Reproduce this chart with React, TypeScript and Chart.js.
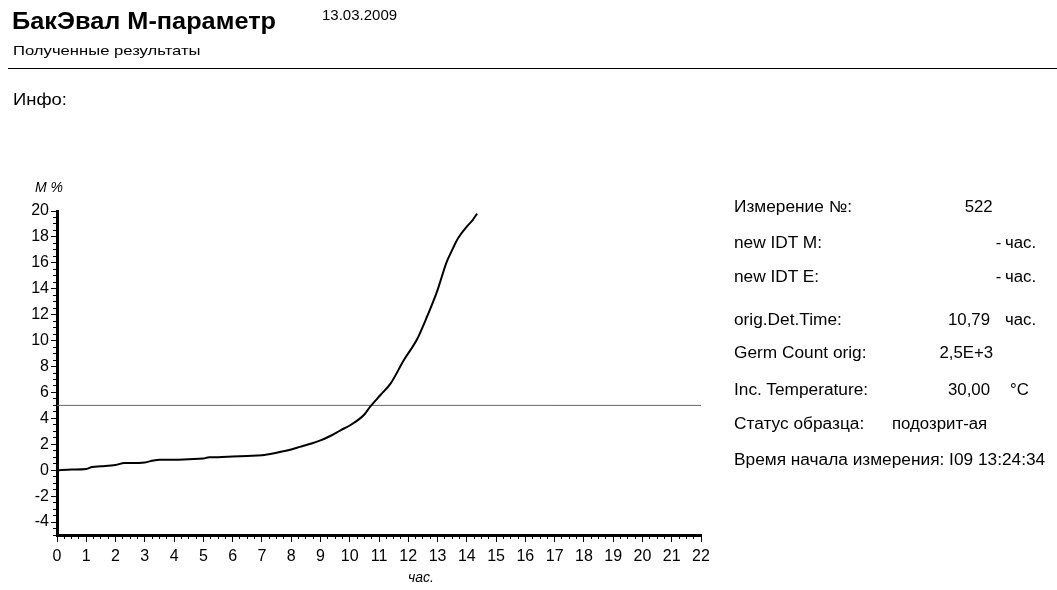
import React, { useEffect, useRef } from "react";
import { Chart, registerables } from "chart.js";

Chart.register(...registerables);

// ---- data ----
const hours = [0, 0.5, 1, 1.2, 1.5, 2, 2.3, 2.5, 3, 3.3, 3.5, 4, 4.5, 5, 5.2, 5.5, 6, 6.5, 7, 7.5, 8, 8.3, 8.6, 9, 9.3, 9.7, 10, 10.3, 10.5, 10.7, 11.05, 11.4, 11.85, 12.3, 12.65, 13.0, 13.3, 13.5, 13.7, 14.0, 14.2, 14.35];
const mPercent = [0, 0.05, 0.1, 0.25, 0.3, 0.4, 0.55, 0.55, 0.6, 0.75, 0.8, 0.8, 0.85, 0.9, 1.0, 1.0, 1.05, 1.1, 1.15, 1.35, 1.6, 1.8, 2.0, 2.3, 2.6, 3.1, 3.45, 3.9, 4.3, 4.9, 5.8, 6.7, 8.5, 10.1, 11.9, 13.9, 16.0, 17.0, 17.9, 18.8, 19.3, 19.8];
const thresholdHours = [0, 22];
const thresholdLevel = [5, 5];

const xRange = [0, 22];
const yRange = [-5, 20];

const infoLabels = ["Измерение №:", "new IDT M:", "new IDT E:", "orig.Det.Time:", "Germ Count orig:", "Inc. Temperature:", "Статус образца:", "Время начала измерения: I09 13:24:34"];
const infoValues = ["522", "-", "-", "10,79", "2,5E+3", "30,00", "подозрит-ая", ""];
const infoUnits = ["", "час.", "час.", "час.", "", "°C", "", ""];

const FONT = "'Liberation Sans', Arial, sans-serif";

type TProps = { x: number; cy: number; size: number; text: string; bold?: boolean; italic?: boolean; sx?: number; align?: "left" | "right" };
function T({ x, cy, size, text, bold, italic, sx = 1, align = "left" }: TProps) {
  const style: React.CSSProperties = {
    position: "absolute",
    top: cy - 0.49 * size,
    fontSize: size,
    lineHeight: `${size}px`,
    fontWeight: bold ? 700 : 400,
    fontStyle: italic ? "italic" : "normal",
    whiteSpace: "nowrap",
    color: "#000",
    transform: `scaleX(${sx})`,
    transformOrigin: align === "left" ? "left center" : "right center",
  };
  if (align === "left") style.left = x;
  else style.right = 1057 - x;
  return <div style={style}>{text}</div>;
}

export default function App() {
  const ref = useRef<HTMLCanvasElement | null>(null);

  useEffect(() => {
    if (!ref.current) return;
    const tickFont = { family: FONT, size: 16 };
    const chart = new Chart(ref.current, {
      type: "line",
      data: {
        datasets: [
          {
            label: "M %",
            data: hours.map((h, i) => ({ x: h, y: mPercent[i] })),
            borderColor: "#000",
            borderWidth: 2,
            pointRadius: 0,
            cubicInterpolationMode: "monotone",
            xAxisID: "x",
            yAxisID: "y",
          },
          {
            label: "threshold",
            data: thresholdHours.map((h, i) => ({ x: h, y: thresholdLevel[i] })),
            borderColor: "#666",
            borderWidth: 1,
            pointRadius: 0,
            xAxisID: "x",
            yAxisID: "y",
          },
        ],
      },
      options: {
        animation: false,
        responsive: false,
        devicePixelRatio: 1,
        layout: { padding: { left: 0, right: 356, top: 211, bottom: 0 } },
        plugins: { legend: { display: false }, tooltip: { enabled: false } },
        scales: {
          xMinor: {
            type: "linear",
            position: "bottom",
            min: xRange[0],
            max: xRange[1],
            weight: 0,
            ticks: { display: false, stepSize: 0.25, autoSkip: false },
            grid: { drawOnChartArea: false, drawTicks: true, tickLength: 4, color: "#000", lineWidth: 1 },
            border: { display: false },
            afterFit: (s: any) => { s.height = 0; },
          },
          x: {
            type: "linear",
            position: "bottom",
            min: xRange[0],
            max: xRange[1],
            weight: 1,
            ticks: { stepSize: 1, autoSkip: false, color: "#000", font: tickFont, padding: 5, maxRotation: 0 },
            grid: { drawOnChartArea: false, tickLength: 7, color: "#000", lineWidth: 1 },
            border: { display: true, width: 3, color: "#000" },
            afterFit: (s: any) => { s.height = 55; },
          },
          yMinor: {
            type: "linear",
            position: "left",
            min: yRange[0],
            max: yRange[1],
            weight: 0,
            ticks: { display: false, stepSize: 0.5, autoSkip: false },
            grid: { drawOnChartArea: false, drawTicks: true, tickLength: 4, color: "#000", lineWidth: 1 },
            border: { display: false },
            afterFit: (s: any) => { s.width = 0; },
          },
          y: {
            type: "linear",
            position: "left",
            min: yRange[0],
            max: yRange[1],
            weight: 1,
            ticks: { stepSize: 2, includeBounds: false, autoSkip: false, color: "#000", font: tickFont, padding: 2 },
            grid: { drawOnChartArea: false, tickLength: 6, color: "#000", lineWidth: 1 },
            border: { display: true, width: 3, color: "#000" },
            afterFit: (s: any) => { s.width = 57; },
          },
        },
      },
    });
    return () => chart.destroy();
  }, []);

  const rowCy = [207, 243, 277, 320, 353, 390, 424, 460];
  const valueRight = [993, 1001, 1001, 990, 993, 990, 0, 0];

  return (
    <div style={{ position: "fixed", left: 0, top: 0, width: 1057, height: 590, background: "#fff", fontFamily: FONT, overflow: "hidden" }}>
      <canvas ref={ref} width={1057} height={590} style={{ position: "absolute", left: 0, top: 0, width: 1057, height: 590 }} />
      <T x={12} cy={21} size={23} text="БакЭвал М-параметр" bold sx={1.1} />
      <T x={322} cy={14} size={15} text="13.03.2009" />
      <T x={13} cy={50} size={13} text="Полученные результаты" sx={1.28} />
      <div style={{ position: "absolute", left: 8, top: 68, width: 1049, height: 0, borderTop: "1.5px solid #000" }} />
      <T x={13} cy={100} size={16} text="Инфо:" sx={1.15} />
      <T x={35} cy={187} size={14} text="M %" italic />
      <T x={408} cy={577} size={14} text="час." italic />
      {infoLabels.map((t, i) => (
        <T key={"l" + i} x={734} cy={rowCy[i]} size={16} text={t} sx={1.08} />
      ))}
      {infoValues.map((t, i) =>
        t && i !== 6 ? <T key={"v" + i} x={valueRight[i]} cy={rowCy[i]} size={16} text={t} align="right" sx={1.05} /> : null
      )}
      {infoUnits.map((t, i) =>
        t ? <T key={"u" + i} x={t === "°C" ? 1010 : 1005} cy={rowCy[i]} size={16} text={t} sx={1.05} /> : null
      )}
      <T x={892} cy={rowCy[6]} size={16} text={infoValues[6]} sx={1.05} />
    </div>
  );
}
